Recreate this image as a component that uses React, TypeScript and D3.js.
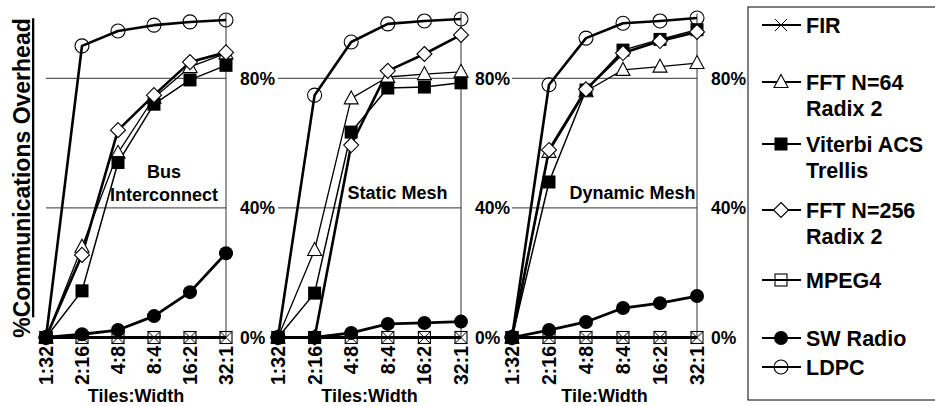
import React from "react";
import * as d3 from "d3";

const categories = ["1:32", "2:16", "4:8", "8:4", "16:2", "32:1"];
const yTicks = [0, 40, 80];
const yTickLabels = ["0%", "40%", "80%"];

// Bus Interconnect
const firBus = [0, 0, 0, 0, 0, 0];
const fft64Bus = [0, 28, 57, 74, 83.5, 87.7];
const viterbiBus = [0, 14.4, 54, 72, 79.5, 84];
const fft256Bus = [0, 25.5, 64, 74.8, 85, 88];
const mpeg4Bus = [0, 0, 0, 0, 0, 0];
const swRadioBus = [0, 1, 2.3, 6.6, 14, 26];
const ldpcBus = [0, 90, 94.6, 96.4, 97.4, 98];

// Static Mesh
const firStatic = [0, 0, 0, 0, 0, 0];
const fft64Static = [0, 27, 73.8, 80.4, 81.3, 82];
const viterbiStatic = [0, 13.7, 63.4, 77, 77.3, 78.6];
const fft256Static = [0, 0, 59.4, 82.3, 87.5, 93.4];
const mpeg4Static = [0, 0, 0, 0, 0, 0];
const swRadioStatic = [0, 0, 1.4, 4.2, 4.5, 4.9];
const ldpcStatic = [0, 74.8, 91.2, 96.8, 97.7, 98.3];

// Dynamic Mesh
const firDynamic = [0, 0, 0, 0, 0, 0];
const fft64Dynamic = [0, 57.3, 76, 82.6, 83.6, 84.7];
const viterbiDynamic = [0, 48, 76.4, 88.7, 92, 95];
const fft256Dynamic = [0, 57.9, 76.6, 87.8, 91.5, 94.3];
const mpeg4Dynamic = [0, 0, 0, 0, 0, 0];
const swRadioDynamic = [0, 2.3, 4.8, 9.1, 10.6, 12.8];
const ldpcDynamic = [0, 78, 92.4, 97, 97.7, 98.6];

const seriesKeys = ["fir", "fft64", "viterbi", "fft256", "mpeg4", "sw", "ldpc"];
const legendLabels = [
  ["FIR"],
  ["FFT N=64", "Radix 2"],
  ["Viterbi ACS", "Trellis"],
  ["FFT N=256", "Radix 2"],
  ["MPEG4"],
  ["SW Radio"],
  ["LDPC"],
];
const legendRowY = [25, 82, 144, 210, 280, 338, 367];

const panelTitles = [["Bus", "Interconnect"], ["Static Mesh"], ["Dynamic Mesh"]];
const panelXLabels = ["Tiles:Width", "Tiles:Width", "Tile:Width"];
const panelData = [
  [firBus, fft64Bus, viterbiBus, fft256Bus, mpeg4Bus, swRadioBus, ldpcBus],
  [firStatic, fft64Static, viterbiStatic, fft256Static, mpeg4Static, swRadioStatic, ldpcStatic],
  [firDynamic, fft64Dynamic, viterbiDynamic, fft256Dynamic, mpeg4Dynamic, swRadioDynamic, ldpcDynamic],
];

const FONT = "'Liberation Sans', Arial, Helvetica, sans-serif";

const lineWidth: Record<string, number> = {
  fir: 2.8,
  fft64: 1.3,
  viterbi: 1.5,
  fft256: 2.6,
  mpeg4: 2.8,
  sw: 2.8,
  ldpc: 2.6,
};

function Marker({ kind, x, y }: { kind: string; x: number; y: number }) {
  switch (kind) {
    case "fir":
      return (
        <g stroke="#000" strokeWidth={1}>
          <line x1={x - 6} y1={y - 6} x2={x + 6} y2={y + 6} />
          <line x1={x - 6} y1={y + 6} x2={x + 6} y2={y - 6} />
        </g>
      );
    case "fft64":
      return (
        <path
          d={`M${x},${y - 7.5} L${x + 7},${y + 5.5} L${x - 7},${y + 5.5} Z`}
          fill="#fff"
          stroke="#000"
          strokeWidth={1.1}
        />
      );
    case "viterbi":
      return <rect x={x - 6.5} y={y - 6.5} width={13} height={13} fill="#000" />;
    case "fft256":
      return (
        <path
          d={`M${x},${y - 7.5} L${x + 7.5},${y} L${x},${y + 7.5} L${x - 7.5},${y} Z`}
          fill="#fff"
          stroke="#000"
          strokeWidth={1.1}
        />
      );
    case "mpeg4":
      return <rect x={x - 6} y={y - 6} width={12} height={12} fill="none" stroke="#000" strokeWidth={1.1} />;
    case "sw":
      return <circle cx={x} cy={y} r={7} fill="#000" />;
    case "ldpc":
      return <circle cx={x} cy={y} r={7} fill="none" stroke="#000" strokeWidth={1.1} />;
  }
  return null;
}

const panelRanges: [number, number][] = [
  [46, 226],
  [278, 461],
  [512, 697],
];

const yScale = d3.scaleLinear().domain([0, 100]).range([337.5, 13.5]);

function Panel({ idx }: { idx: number }) {
  const [x0, x1] = panelRanges[idx];
  const xScale = d3.scalePoint<string>().domain(categories).range([x0, x1]);
  const line = d3
    .line<number>()
    .x((_, i) => xScale(categories[i]) as number)
    .y((d) => yScale(d));
  const data = panelData[idx];
  const cx = (x0 + x1) / 2;
  const titles = panelTitles[idx];
  return (
    <g>
      {yTicks.slice(1).map((t) => (
        <line key={t} x1={x0} x2={x1} y1={yScale(t)} y2={yScale(t)} stroke="#333" strokeWidth={1} />
      ))}
      <line x1={x1} x2={x1} y1={yScale(100)} y2={yScale(0)} stroke="#333" strokeWidth={1} />
      {yTicks.map((t, i) => (
        <text
          key={t}
          x={x1 + 14}
          y={yScale(t)}
          dy="0.36em"
          fontFamily={FONT}
          fontWeight="bold"
          fontSize={17.5}
        >
          {yTickLabels[i]}
        </text>
      ))}
      {titles.length === 2 ? (
        <text fontFamily={FONT} fontWeight="bold" fontSize={18} textAnchor="middle">
          <tspan x={cx + 28} y={178}>
            {titles[0]}
          </tspan>
          <tspan x={cx + 28} y={201}>
            {titles[1]}
          </tspan>
        </text>
      ) : (
        <text x={cx + 28} y={199} fontFamily={FONT} fontWeight="bold" fontSize={18} textAnchor="middle">
          {titles[0]}
        </text>
      )}
      {data.map((vals, si) => (
        <g key={si}>
          <path d={line(vals) as string} fill="none" stroke="#000" strokeWidth={lineWidth[seriesKeys[si]]} strokeLinejoin="round" />
        </g>
      ))}
      {data.map((vals, si) => (
        <g key={"m" + si}>
          {vals.map((v, i) => (
            <Marker key={i} kind={seriesKeys[si]} x={xScale(categories[i]) as number} y={yScale(v)} />
          ))}
        </g>
      ))}
      {categories.map((c) => (
        <text
          key={c}
          transform={`translate(${xScale(c)},346) rotate(-90)`}
          textAnchor="end"
          dy="0.36em"
          fontFamily={FONT}
          fontWeight="bold"
          fontSize={19.5}
        >
          {c}
        </text>
      ))}
      <text x={cx} y={402} textAnchor="middle" fontFamily={FONT} fontWeight="bold" fontSize={18}>
        {panelXLabels[idx]}
      </text>
    </g>
  );
}

function Legend() {
  return (
    <g>
      <rect x={748} y={7} width={200} height={393} fill="#fff" stroke="#000" strokeWidth={1} />
      {seriesKeys.map((k, i) => {
        const y = legendRowY[i];
        return (
          <g key={k}>
            <line x1={762} x2={801} y1={y} y2={y} stroke="#000" strokeWidth={2} />
            <Marker kind={k} x={781} y={y} />
            <text fontFamily={FONT} fontWeight="bold" fontSize={21.5}>
              {legendLabels[i].map((l, j) => (
                <tspan key={j} x={806} y={y + 8 + j * 25.5}>
                  {l}
                </tspan>
              ))}
            </text>
          </g>
        );
      })}
    </g>
  );
}

export default function App() {
  return (
    <svg
      width={935}
      height={406}
      style={{ position: "absolute", left: 0, top: 0, background: "#fff" }}
    >
      <rect width={935} height={406} fill="#fff" />
      <text
        transform="translate(30,178) rotate(-90)"
        textAnchor="middle"
        fontFamily={FONT}
        fontWeight="bold"
        fontSize={23}
      >
        %<tspan style={{ textDecoration: "underline" }}>Communications Overhead</tspan>
      </text>
      {[0, 1, 2].map((i) => (
        <Panel key={i} idx={i} />
      ))}
      <Legend />
    </svg>
  );
}
